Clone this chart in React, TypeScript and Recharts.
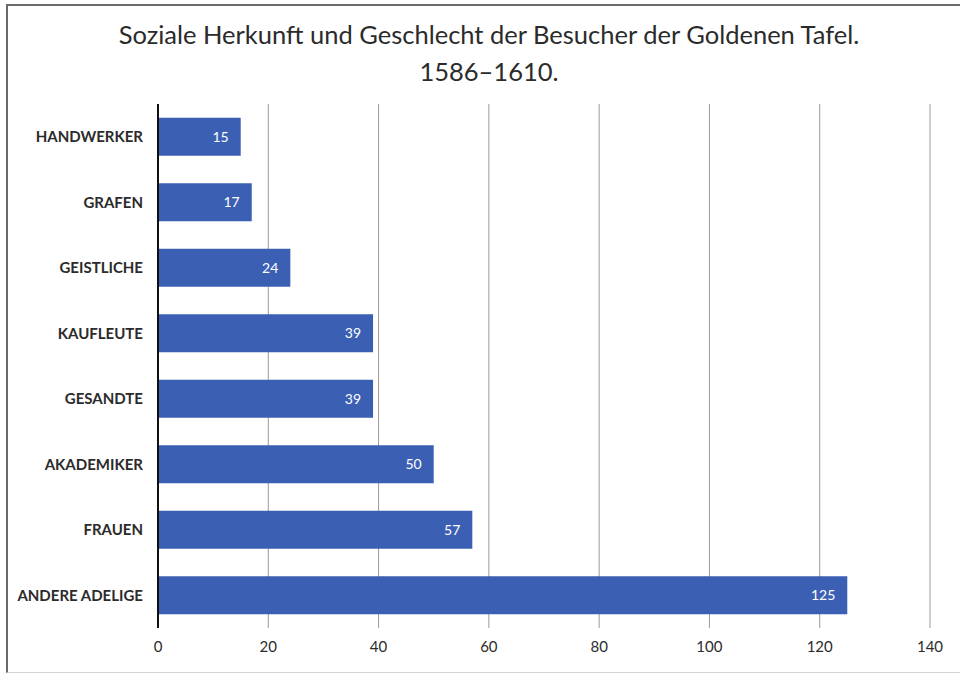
import { Bar, BarChart, CartesianGrid, LabelList, XAxis, YAxis } from "recharts";

const CATEGORIES = [
  "HANDWERKER",
  "GRAFEN",
  "GEISTLICHE",
  "KAUFLEUTE",
  "GESANDTE",
  "AKADEMIKER",
  "FRAUEN",
  "ANDERE ADELIGE",
];
const VISITORS = [15, 17, 24, 39, 39, 50, 57, 125];
const X_TICKS = [0, 20, 40, 60, 80, 100, 120, 140];

const TITLE_LINES = [
  "Soziale Herkunft und Geschlecht der Besucher der Goldenen Tafel.",
  "1586–1610.",
];

const BAR_COLOR = "#3b5fb3";
const TEXT_COLOR = "#2b2b2b";
const FONT = "Lato, 'Noto Sans', sans-serif";

type Row = { name: string; value: number };

export default function App() {
  const data: Row[] = CATEGORIES.map((name, i) => ({ name, value: VISITORS[i] }));

  return (
    <div
      style={{
        position: "fixed",
        left: 0,
        top: 0,
        width: 960,
        height: 674,
        background: "#fff",
        fontFamily: FONT,
      }}
    >
      {/* frame of the scanned chart */}
      <div
        style={{
          position: "absolute",
          left: 6,
          top: 4,
          width: 960,
          height: 669,
          borderLeft: "2px solid #6a6a6a",
          borderTop: "2px solid #6a6a6a",
          borderBottom: "1px solid #d4d4d4",
          boxSizing: "border-box",
        }}
      />
      <div
        style={{
          position: "absolute",
          left: 0,
          top: 16,
          width: 978,
          textAlign: "center",
          fontSize: 25.5,
          lineHeight: "37px",
          color: TEXT_COLOR,
        }}
      >
        {TITLE_LINES.map((t) => (
          <div key={t}>{t}</div>
        ))}
      </div>
      <div style={{ position: "absolute", left: 0, top: 0 }}>
        <BarChart
          width={960}
          height={674}
          data={data}
          layout="vertical"
          barCategoryGap="21%"
          margin={{ top: 104, right: 30, bottom: 0, left: 0 }}
        >
          <CartesianGrid horizontal={false} stroke="#9a9a9a" strokeWidth={1} />
          <XAxis
            type="number"
            domain={[0, 140]}
            ticks={X_TICKS}
            axisLine={false}
            tickLine={false}
            tickSize={0}
            tickMargin={13}
            height={46}
            tick={{ fontSize: 15, fill: TEXT_COLOR, fontFamily: FONT }}
          />
          <YAxis
            type="category"
            dataKey="name"
            width={158}
            axisLine={{ stroke: "#111", strokeWidth: 2 }}
            tickLine={false}
            tickSize={0}
            tickMargin={15}
            tick={{ fontSize: 15, fontWeight: 700, fill: TEXT_COLOR, fontFamily: FONT }}
          />
          <Bar dataKey="value" fill={BAR_COLOR} isAnimationActive={false}>
            <LabelList
              dataKey="value"
              position="insideRight"
              offset={12}
              fill="#fff"
              fontSize={14}
              fontFamily={FONT}
            />
          </Bar>
        </BarChart>
      </div>
    </div>
  );
}
